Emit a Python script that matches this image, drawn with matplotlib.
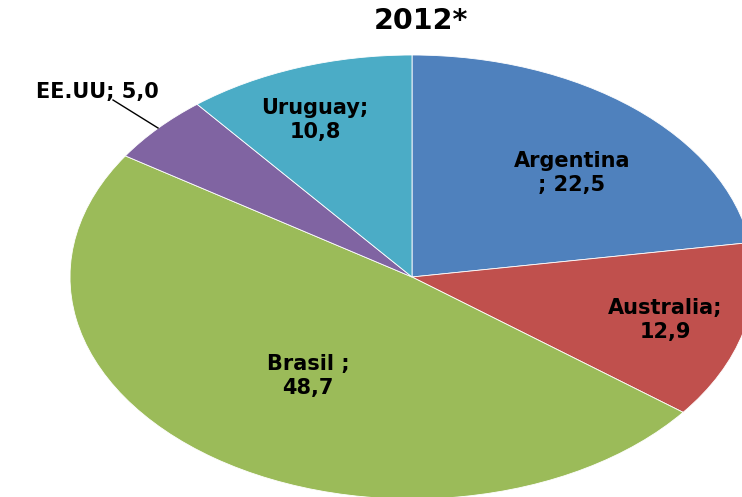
import matplotlib
matplotlib.use("Agg")
import matplotlib.pyplot as plt

categories = ["Argentina", "Australia", "Brasil", "EE.UU", "Uruguay"]
values = [22.5, 12.9, 48.7, 5.0, 10.8]
colors = ["#4F81BD", "#C0504D", "#9BBB59", "#8064A2", "#4BACC6"]
label_texts = ["Argentina\n; 22,5", "Australia;\n12,9", "Brasil ;\n48,7", "EE.UU; 5,0", "Uruguay;\n10,8"]

W, H = 742, 497
fig = plt.figure(figsize=(W / 100, H / 100), dpi=100)
ax = fig.add_axes([0, 0, 1, 1])

cx, cy, rx, ry = 412, 277, 342, 222
ax.pie(values, colors=colors, startangle=90, counterclock=False,
       wedgeprops=dict(edgecolor="white", linewidth=0.6))
ax.set_aspect("auto")
ax.set_xlim(-cx / rx, (W - cx) / rx)
ax.set_ylim(-(H - cy) / ry, cy / ry)
ax.axis("off")

def fx(x):
    return x / W

def fy(y):
    return 1 - y / H

fig.text(fx(421), fy(21), "2012*", ha="center", va="center",
         fontsize=20.5, fontweight="bold", family="DejaVu Sans")

pos = {
    "Argentina": (572, 173),
    "Australia": (665, 320),
    "Brasil": (308, 376),
    "EE.UU": (97, 92),
    "Uruguay": (315, 120),
}
for cat, txt in zip(categories, label_texts):
    x, y = pos[cat]
    fig.text(fx(x), fy(y), txt, ha="center", va="center", fontsize=15,
             fontweight="bold", linespacing=1.2, family="DejaVu Sans")

fig.add_artist(plt.Line2D([fx(113), fx(158)], [fy(100), fy(128)],
                          transform=fig.transFigure, color="black", lw=1))

fig.savefig("out.png", dpi=100)
